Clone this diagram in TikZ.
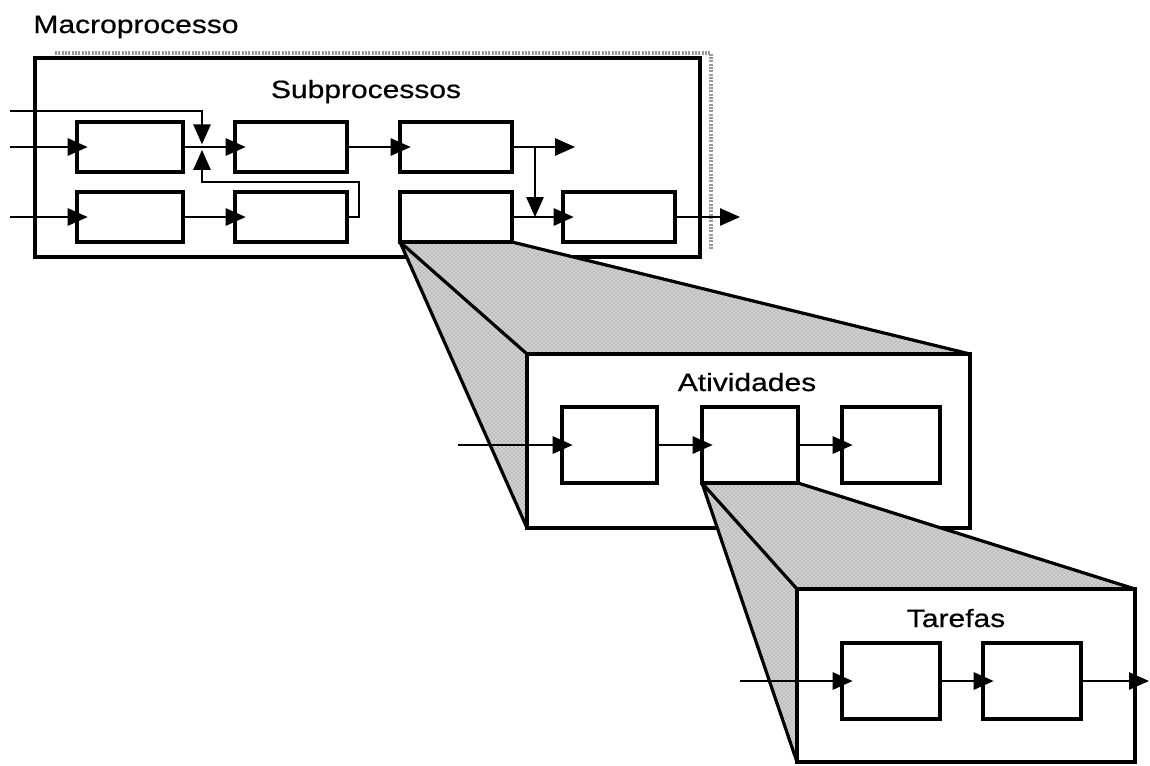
\documentclass[tikz,border=0pt]{standalone}
\usepackage{fontspec}
\setmainfont{Liberation Sans}
\newfontfamily\lblfont[FakeStretch=1.2,FakeBold=0.6]{Liberation Sans}
\usetikzlibrary{arrows.meta,fit,patterns}
\pgfdeclarelayer{lzero}
\pgfdeclarelayer{lone}
\pgfdeclarelayer{ltwo}
\pgfdeclarelayer{lthree}
\pgfsetlayers{lzero,lone,ltwo,lthree,main}
\begin{document}
\begin{tikzpicture}[x=0.75pt,y=-0.75pt,
  sbox/.style={draw, line width=2.6pt, inner sep=0pt, outer sep=0pt, fill=white},
  outerbox/.style={draw, line width=2.4pt, inner sep=0pt, outer sep=0pt, fill=white},
  conn/.style={line width=1.3pt, -{Triangle[length=15pt,width=13pt]}},
  arrin/.style={conn, shorten >=-8pt},
  lbl/.style={font=\lblfont\fontsize{18.75pt}{22pt}\selectfont, inner sep=0pt, anchor=base},
  trapfill/.style={fill=black!18, postaction={pattern=crosshatch dots, pattern color=black!50}},
  trapline/.style={line width=2.4pt, line cap=round},
  ghoststrip/.style={draw=black!40, line width=3pt, dash pattern=on 1.5pt off 1pt}
]
\useasboundingbox (0,0) rectangle (1150,765);

% ---------- Macroprocesso ----------
\node[lbl] (tmacro) at (136,33) {Macroprocesso};
\begin{pgfonlayer}{lzero}
  \draw[ghoststrip] (55,53) -- (711,53) -- (711,250);
  \node[outerbox, fit={(35,58)(700,257)}] (macro) {};
\end{pgfonlayer}
\node[lbl] (tsub) at (366,98) {Subprocessos};

\node[sbox, fit={(77,122)(183,172)}] (b1) {};
\node[sbox, fit={(235,122)(347,172)}] (b2) {};
\node[sbox, fit={(400,122)(512,172)}] (b3) {};
\node[sbox, fit={(77,192)(183,242)}] (b4) {};
\node[sbox, fit={(235,192)(347,242)}] (b5) {};
\node[sbox, fit={(400,192)(512,242)}] (b6) {};
\node[sbox, fit={(563,192)(675,242)}] (b7) {};

\coordinate (in0) at (10,111);
\coordinate (in1) at (10,147);
\coordinate (in2) at (10,217);
\coordinate (jn) at (202,147);
\coordinate (fb) at (359,182);
\coordinate (br) at (535,147);
\coordinate (brt) at (535,217);
\coordinate (out1) at (575,147);
\coordinate (out2) at (740,217);

\draw[conn, shorten >=2pt] (in0) -| (jn);
\draw[conn, shorten >=2.2pt] (b5.east) -| (fb) -| (jn);
\draw[arrin] (in1) -- (b1.west);
\draw[arrin] (b1.east) -- (b2.west);
\draw[arrin] (b2.east) -- (b3.west);
\draw[conn] (b3.east) -- (out1);
\draw[conn] (br) -- (brt);
\draw[arrin] (in2) -- (b4.west);
\draw[arrin] (b4.east) -- (b5.west);
\draw[arrin] (b6.east) -- (b7.west);
\draw[conn] (b7.east) -- (out2);

% ---------- Atividades ----------
\begin{pgfonlayer}{ltwo}
  \node[outerbox, fit={(527,354)(970,528)}] (atv) {};
\end{pgfonlayer}
\begin{pgfonlayer}{lone}
  \fill[trapfill] (b6.south west) -- (b6.south east) -- (atv.north east)
    -- (atv.north west) -- (atv.south west) -- cycle;
  \draw[trapline] (b6.south west) -- (atv.north west)
    (b6.south west) -- (atv.south west)
    (b6.south east) -- (atv.north east);
\end{pgfonlayer}
\node[lbl] (tatv) at (747,391) {Atividades};
\node[sbox, fit={(562,407)(657,483)}] (a1) {};
\node[sbox, fit={(702,407)(798,483)}] (a2) {};
\node[sbox, fit={(842,407)(940,483)}] (a3) {};
\coordinate (in3) at (458,445);
\draw[arrin] (in3) -- (a1.west);
\draw[arrin] (a1.east) -- (a2.west);
\draw[arrin] (a2.east) -- (a3.west);

% ---------- Tarefas ----------
\node[outerbox, fit={(797,589)(1135,762)}] (tar) {};
\begin{pgfonlayer}{lthree}
  \fill[trapfill] (a2.south west) -- (a2.south east) -- (tar.north east)
    -- (tar.north west) -- (tar.south west) -- cycle;
  \draw[trapline] (a2.south west) -- (tar.north west)
    (a2.south west) -- (tar.south west)
    (a2.south east) -- (tar.north east);
\end{pgfonlayer}
\node[lbl] (ttar) at (956,627) {Tarefas};
\node[sbox, fit={(842,643)(940,719)}] (t1) {};
\node[sbox, fit={(983,643)(1081,719)}] (t2) {};
\coordinate (in4) at (740,681);
\coordinate (out4) at (1149,681);
\draw[arrin] (in4) -- (t1.west);
\draw[arrin] (t1.east) -- (t2.west);
\draw[conn] (t2.east) -- (out4);
\end{tikzpicture}
\end{document}
